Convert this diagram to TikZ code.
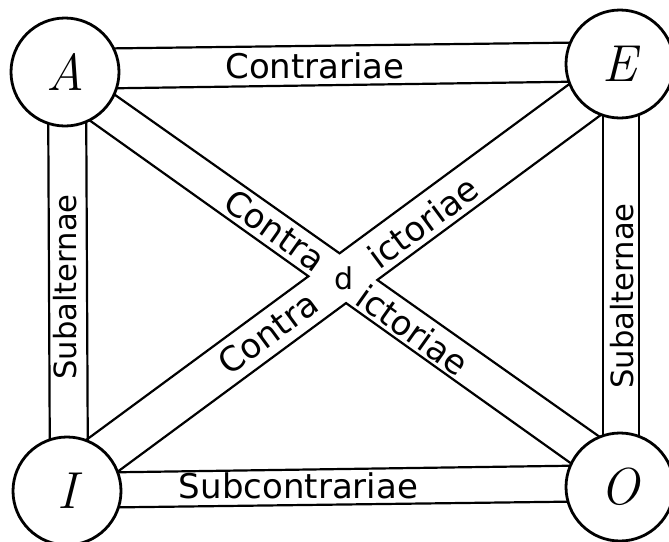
\documentclass[tikz,border=0pt]{standalone}
\usepackage{fontspec}
\newfontfamily\lblfont{DejaVu Sans}
\usetikzlibrary{calc}
\pgfdeclarelayer{bg}
\pgfsetlayers{bg,main}
\begin{document}
\begin{tikzpicture}[x=0.5pt,y=-0.5pt,
  pole/.style={circle, draw, line width=1.4pt, fill=white, minimum size=54pt,
    inner sep=0pt, font=\fontsize{26}{30}\selectfont\itshape},
  edge/.style={line width=1.1pt, line cap=round, line join=miter},
  lbl/.style={inner sep=0pt, font=\lblfont\fontsize{17}{20}\selectfont},
  vlbl/.style={inner sep=0pt, rotate=90, font=\lblfont\fontsize{15.3}{18}\selectfont},
]
\useasboundingbox (0,0) rectangle (669,541);

% poles
\node[pole] (A) at (65,72) {A};
\node[pole] (E) at (620,64) {E};
\node[pole] (I) at (67,491) {I};
\node[pole] (O) at (620,487) {O};

% band end points relative to the poles
\coordinate (aT1) at ([shift={(0,-23)}]A.center);
\coordinate (eT1) at ([shift={(0,-22)}]E.center);
\coordinate (aT2) at ([shift={(0,17)}]A.center);
\coordinate (eT2) at ([shift={(0,17)}]E.center);

\coordinate (iB1) at ([shift={(0,-18)}]I.center);
\coordinate (oB1) at ([shift={(0,-22)}]O.center);
\coordinate (iB2) at ([shift={(0,17)}]I.center);
\coordinate (oB2) at ([shift={(0,14)}]O.center);

\coordinate (aL1) at ([shift={(-17,0)}]A.center);
\coordinate (iL1) at ([shift={(-17,0)}]I.center);
\coordinate (aL2) at ([shift={(21,0)}]A.center);
\coordinate (iL2) at ([shift={(21,0)}]I.center);

\coordinate (eR1) at ([shift={(-17,0)}]E.center);
\coordinate (oR1) at ([shift={(-17,0)}]O.center);
\coordinate (eR2) at ([shift={(19,0)}]E.center);
\coordinate (oR2) at ([shift={(19,0)}]O.center);

\coordinate (aNE) at ([shift={(0,-12.4)}]A.center);
\coordinate (oNE) at ([shift={(0,-35.8)}]O.center);
\coordinate (aSW) at ([shift={(0,30.8)}]A.center);
\coordinate (oSW) at ([shift={(0,11.3)}]O.center);
\coordinate (iNW) at ([shift={(0,-36.9)}]I.center);
\coordinate (eNW) at ([shift={(0,-17.3)}]E.center);
\coordinate (iSE) at ([shift={(0,18.1)}]I.center);
\coordinate (eSE) at ([shift={(0,36.8)}]E.center);

\coordinate (xT) at (intersection of aNE--oNE and iNW--eNW);
\coordinate (xL) at (intersection of aSW--oSW and iNW--eNW);
\coordinate (xB) at (intersection of aSW--oSW and iSE--eSE);
\coordinate (xR) at (intersection of aNE--oNE and iSE--eSE);

\begin{pgfonlayer}{bg}
  \draw[edge] (aT1) -- (eT1);
  \draw[edge] (aT2) -- (eT2);
  \draw[edge] (iB1) -- (oB1);
  \draw[edge] (iB2) -- (oB2);
  \draw[edge] (aL1) -- (iL1);
  \draw[edge] (aL2) -- (iL2);
  \draw[edge] (eR1) -- (oR1);
  \draw[edge] (eR2) -- (oR2);
  \draw[edge] (aNE) -- (xT) -- (eNW);
  \draw[edge] (aSW) -- (xL) -- (iNW);
  \draw[edge] (iSE) -- (xB) -- (oSW);
  \draw[edge] (eSE) -- (xR) -- (oNE);
\end{pgfonlayer}

% labels
\node[lbl, anchor=base] (lt) at (315,78) {Contrariae};
\node[lbl, anchor=base] (lb) at (298.5,498) {Subcontrariae};
\node[vlbl] (ll) at (65,287) {Subalternae};
\node[vlbl] (lr) at (622,296) {Subalternae};
\node[lbl, rotate=-35.3] (c1) at (275,230) {Contra};
\node[lbl, rotate=-35.3] (c2) at (413,330) {ictoriae};
\node[lbl, rotate=36.4] (c3) at (268,333) {Contra};
\node[lbl, rotate=36.4] (c4) at (423,222) {ictoriae};
\node[inner sep=0pt, font=\lblfont\fontsize{15}{18}\selectfont] (dd) at (344,278) {d};
\end{tikzpicture}
\end{document}
